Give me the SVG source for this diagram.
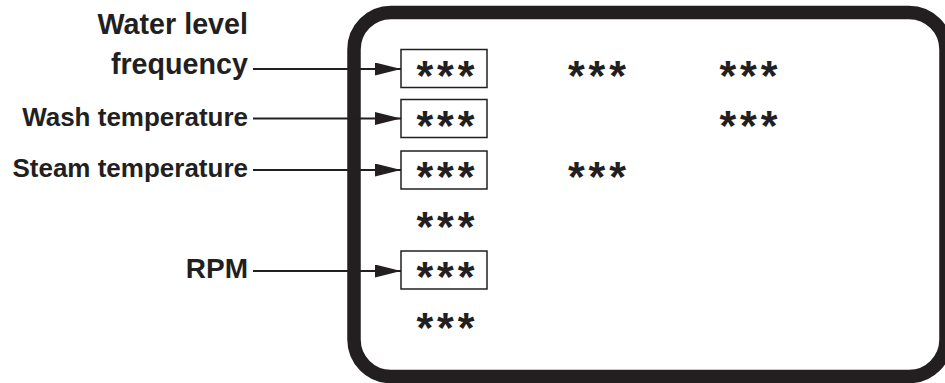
<svg xmlns="http://www.w3.org/2000/svg" width="945" height="383" viewBox="0 0 945 383">
<defs>
<style>
.lbl{font-family:"Liberation Sans",Arial,sans-serif;font-weight:bold;font-size:26px;fill:#231f20;text-anchor:end}
.big{font-size:28.7px}
.st{font-family:"Liberation Sans",Arial,sans-serif;font-weight:bold;font-size:43px;fill:#231f20;text-anchor:middle;letter-spacing:4px}
.box{fill:#fff;stroke:#231f20;stroke-width:1.5}
.conn{stroke:#231f20;stroke-width:2;fill:none}
.frame{fill:#fff;stroke:#231f20;stroke-width:13.5}
</style>
<marker id="ah" viewBox="0 0 26 13" refX="26" refY="6.5" markerWidth="26" markerHeight="13" markerUnits="userSpaceOnUse" orient="auto">
<path d="M0,0 L26,6.5 L0,13 Z" fill="#231f20"/>
</marker>
</defs>
<rect width="945" height="383" fill="#fff"/>
<g id="frame"><rect class="frame" x="354" y="12.5" width="592" height="364" rx="37" ry="37"/></g>
<g id="label-water"><text class="lbl big" x="248" y="34">Water level</text><text class="lbl big" x="248" y="73.5">frequency</text></g>
<g id="label-wash"><text class="lbl" x="248" y="126">Wash temperature</text></g>
<g id="label-steam"><text class="lbl" x="248" y="177">Steam temperature</text></g>
<g id="label-rpm"><text class="lbl" x="248" y="278" style="font-size:28px">RPM</text></g>
<g id="box1"><rect class="box" x="401" y="49.5" width="86" height="38"/><text class="st" x="447.5" y="89.5">***</text></g>
<g id="box2"><rect class="box" x="401" y="99.5" width="86" height="38"/><text class="st" x="447.5" y="139.5">***</text></g>
<g id="box3"><rect class="box" x="401" y="151" width="86" height="38"/><text class="st" x="447.5" y="191.2">***</text></g>
<g id="row4"><text class="st" x="447.5" y="241.3">***</text></g>
<g id="box5"><rect class="box" x="401" y="251" width="86" height="38"/><text class="st" x="447.5" y="291.2">***</text></g>
<g id="row6"><text class="st" x="447.5" y="342.2">***</text></g>
<g id="c2r1"><text class="st" x="599" y="89.5">***</text></g>
<g id="c3r1"><text class="st" x="750.5" y="89.5">***</text></g>
<g id="c3r2"><text class="st" x="750.5" y="139.5">***</text></g>
<g id="c2r3"><text class="st" x="599" y="191.2">***</text></g>
<g id="connectors">
<line class="conn" x1="253" y1="69" x2="401" y2="69" marker-end="url(#ah)"/>
<line class="conn" x1="253" y1="118.5" x2="401" y2="118.5" marker-end="url(#ah)"/>
<line class="conn" x1="253" y1="170" x2="401" y2="170" marker-end="url(#ah)"/>
<line class="conn" x1="253" y1="271" x2="401" y2="271" marker-end="url(#ah)"/>
</g>
</svg>
